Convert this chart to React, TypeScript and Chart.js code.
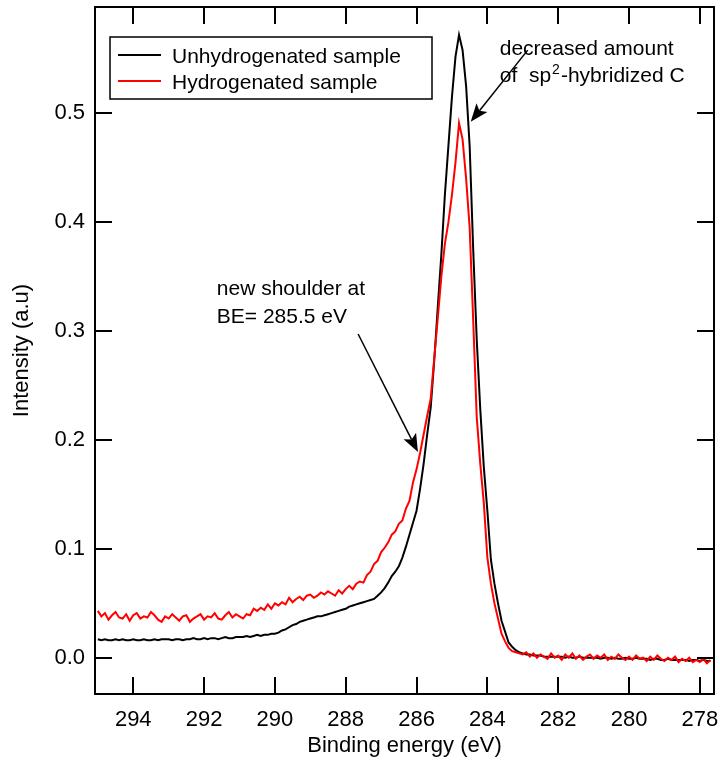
import React, { useEffect, useRef } from "react";
import { Chart, registerables } from "chart.js";

Chart.register(...registerables);

// ---- Data ----
const E_START = 295.0; // binding energy of the first sample (eV)
const E_STEP = -0.1; // sampling step (eV)

const UNHYDROGENATED = [
  0.017, 0.016, 0.017, 0.016, 0.016, 0.017, 0.016, 0.017, 0.016, 0.016,
  0.017, 0.016, 0.016, 0.017, 0.016, 0.016, 0.017, 0.016, 0.017, 0.017,
  0.017, 0.016, 0.017, 0.017, 0.016, 0.017, 0.017, 0.018, 0.017, 0.017,
  0.018, 0.017, 0.018, 0.018, 0.017, 0.018, 0.019, 0.018, 0.018, 0.019,
  0.019, 0.019, 0.020, 0.019, 0.020, 0.021, 0.020, 0.021, 0.021, 0.022,
  0.022, 0.023, 0.025, 0.026, 0.028, 0.030, 0.031, 0.033, 0.034, 0.035,
  0.036, 0.037, 0.038, 0.038, 0.039, 0.040, 0.041, 0.042, 0.043, 0.044,
  0.045, 0.047, 0.048, 0.049, 0.050, 0.051, 0.052, 0.053, 0.054, 0.057,
  0.060, 0.064, 0.069, 0.075, 0.079, 0.084, 0.092, 0.102, 0.113, 0.124,
  0.135, 0.155, 0.178, 0.205, 0.230, 0.273, 0.322, 0.370, 0.425, 0.470,
  0.515, 0.552, 0.572, 0.558, 0.525, 0.470, 0.375, 0.292, 0.228, 0.175,
  0.135, 0.090, 0.068, 0.050, 0.034, 0.024, 0.014, 0.010, 0.007, 0.005,
  0.004, 0.003, 0.003, 0.002, 0.002, 0.002, 0.001, 0.001, 0.001, 0.001,
  0.001, 0.001, 0.000, 0.001, 0.000, 0.000, 0.001, 0.000, 0.000, 0.000,
  0.000, 0.000, -0.001, 0.000, 0.000, -0.001, 0.000, -0.001, -0.001, 0.000,
  -0.001, -0.001, 0.000, -0.001, -0.001, -0.001, -0.002, -0.001, -0.001, -0.002,
  -0.002, -0.001, -0.002, -0.002, -0.002, -0.002, -0.002, -0.003, -0.002, -0.002,
  -0.003, -0.002, -0.003, -0.003,
];

const HYDROGENATED = [
  0.043, 0.038, 0.041, 0.035, 0.039, 0.042, 0.037, 0.036, 0.040, 0.034,
  0.039, 0.041, 0.036, 0.038, 0.037, 0.042, 0.039, 0.035, 0.033, 0.038,
  0.036, 0.040, 0.037, 0.034, 0.038, 0.039, 0.033, 0.036, 0.038, 0.040,
  0.035, 0.038, 0.037, 0.041, 0.036, 0.035, 0.039, 0.042, 0.037, 0.040,
  0.038, 0.036, 0.040, 0.039, 0.045, 0.043, 0.046, 0.044, 0.049, 0.045,
  0.050, 0.048, 0.051, 0.049, 0.055, 0.051, 0.054, 0.056, 0.053, 0.057,
  0.058, 0.055, 0.057, 0.060, 0.058, 0.061, 0.059, 0.057, 0.062, 0.059,
  0.063, 0.066, 0.063, 0.068, 0.070, 0.069, 0.076, 0.079, 0.086, 0.089,
  0.097, 0.101, 0.106, 0.113, 0.116, 0.123, 0.126, 0.137, 0.144, 0.161,
  0.173, 0.188, 0.205, 0.222, 0.238, 0.275, 0.312, 0.350, 0.380, 0.400,
  0.425, 0.455, 0.491, 0.476, 0.440, 0.395, 0.310, 0.221, 0.178, 0.142,
  0.092, 0.068, 0.050, 0.036, 0.022, 0.015, 0.009, 0.006, 0.005, 0.004,
  0.003, 0.005, 0.001, 0.004, 0.000, 0.003, 0.001, -0.001, 0.004, 0.000,
  0.002, -0.002, 0.003, 0.000, 0.004, -0.001, 0.002, -0.002, 0.001, 0.003,
  -0.001, 0.002, 0.000, 0.003, -0.002, 0.001, -0.001, 0.003, 0.000, -0.002,
  0.001, -0.002, 0.002, -0.001, 0.000, -0.003, 0.001, -0.002, 0.002, -0.001,
  -0.003, 0.000, -0.002, 0.001, -0.004, -0.001, -0.003, 0.000, -0.004, -0.002,
  -0.004, -0.001, -0.005, -0.002,
];

const SERIES_LABELS = ["Unhydrogenated sample", "Hydrogenated sample"];
const SERIES_COLORS = ["#000000", "#ff0000"];

const X_TICKS = [294, 292, 290, 288, 286, 284, 282, 280, 278];
const Y_TICKS = [0.0, 0.1, 0.2, 0.3, 0.4, 0.5];

const X_MIN = 277.6;
const X_MAX = 295.08;
const Y_MIN = -0.0333;
const Y_MAX = 0.5976;

const X_TITLE = "Binding energy (eV)";
const Y_TITLE = "Intensity (a.u)";

// annotation anchors in data coordinates
const ANN_SP2 = {
  line1: "decreased amount",
  line2a: "of  sp",
  sup: "2",
  line2b: "-hybridized C",
  textE: 283.65,
  textV: 0.5535,
  tailE: 282.86,
  tailV: 0.558,
  tipE: 284.47,
  tipV: 0.4923,
};
const ANN_SHOULDER = {
  line1: "new shoulder at",
  line2: "BE= 285.5 eV",
  textE: 291.64,
  textV: 0.3331,
  tailE: 287.65,
  tailV: 0.2973,
  tipE: 285.96,
  tipV: 0.1889,
};

const FONT = '"Liberation Sans", Arial, Helvetica, sans-serif';

function buildPoints(values: number[]) {
  return values.map((v, i) => ({ x: +(E_START + i * E_STEP).toFixed(2), y: v }));
}

function drawArrow(ctx: CanvasRenderingContext2D, x1: number, y1: number, x2: number, y2: number) {
  const ang = Math.atan2(y2 - y1, x2 - x1);
  const headLen = 18;
  const headW = 7;
  const notch = 4;
  const c = Math.cos(ang);
  const s = Math.sin(ang);
  const bx = x2 - headLen * c;
  const by = y2 - headLen * s;
  ctx.beginPath();
  ctx.moveTo(x1, y1);
  ctx.lineTo(x2 - (headLen - notch) * c, y2 - (headLen - notch) * s);
  ctx.stroke();
  ctx.beginPath();
  ctx.moveTo(x2, y2);
  ctx.lineTo(bx + headW * s, by - headW * c);
  ctx.lineTo(x2 - (headLen - notch) * c, y2 - (headLen - notch) * s);
  ctx.lineTo(bx - headW * s, by + headW * c);
  ctx.closePath();
  ctx.fill();
}

const decorPlugin = {
  id: "decor",
  afterDatasetsDraw(chart: any) {
    const { ctx, chartArea: a, scales } = chart;
    const xs = scales.x;
    const ys = scales.y;
    ctx.save();
    ctx.strokeStyle = "#000";
    ctx.fillStyle = "#000";
    ctx.lineWidth = 2;
    ctx.lineCap = "butt";
    // frame
    ctx.strokeRect(a.left, a.top, a.right - a.left, a.bottom - a.top);
    // inward mirror ticks
    const TL = 17;
    ctx.beginPath();
    X_TICKS.forEach((v) => {
      const px = Math.round(xs.getPixelForValue(v));
      ctx.moveTo(px, a.bottom);
      ctx.lineTo(px, a.bottom - TL);
      ctx.moveTo(px, a.top);
      ctx.lineTo(px, a.top + TL);
    });
    Y_TICKS.forEach((v) => {
      const py = Math.round(ys.getPixelForValue(v));
      ctx.moveTo(a.left, py);
      ctx.lineTo(a.left + TL, py);
      ctx.moveTo(a.right, py);
      ctx.lineTo(a.right - TL, py);
    });
    ctx.stroke();

    // legend
    const lx = a.left + 15;
    const ly = a.top + 30;
    ctx.lineWidth = 1.5;
    ctx.strokeRect(lx, ly, 322, 62);
    ctx.font = `21px ${FONT}`;
    ctx.textBaseline = "alphabetic";
    ctx.textAlign = "left";
    SERIES_LABELS.forEach((lab, i) => {
      const yy = ly + 18 + i * 26;
      ctx.strokeStyle = SERIES_COLORS[i];
      ctx.lineWidth = 1.8;
      ctx.beginPath();
      ctx.moveTo(lx + 8, yy);
      ctx.lineTo(lx + 51, yy);
      ctx.stroke();
      ctx.fillStyle = "#000";
      ctx.fillText(lab, lx + 62, yy + 7.5);
    });

    // annotation 1
    ctx.strokeStyle = "#000";
    ctx.fillStyle = "#000";
    ctx.lineWidth = 1.5;
    {
      const tx = xs.getPixelForValue(ANN_SP2.textE);
      const ty = ys.getPixelForValue(ANN_SP2.textV);
      ctx.font = `21px ${FONT}`;
      ctx.fillText(ANN_SP2.line1, tx, ty);
      const y2 = ty + 27;
      ctx.fillText(ANN_SP2.line2a, tx, y2);
      let cx = tx + ctx.measureText(ANN_SP2.line2a).width + 1;
      ctx.font = `14px ${FONT}`;
      ctx.fillText(ANN_SP2.sup, cx, y2 - 8);
      cx += ctx.measureText(ANN_SP2.sup).width + 1;
      ctx.font = `21px ${FONT}`;
      ctx.fillText(ANN_SP2.line2b, cx, y2);
      drawArrow(
        ctx,
        xs.getPixelForValue(ANN_SP2.tailE),
        ys.getPixelForValue(ANN_SP2.tailV),
        xs.getPixelForValue(ANN_SP2.tipE),
        ys.getPixelForValue(ANN_SP2.tipV)
      );
    }
    // annotation 2
    {
      const tx = xs.getPixelForValue(ANN_SHOULDER.textE);
      const ty = ys.getPixelForValue(ANN_SHOULDER.textV);
      ctx.font = `21px ${FONT}`;
      ctx.fillText(ANN_SHOULDER.line1, tx, ty);
      ctx.fillText(ANN_SHOULDER.line2, tx, ty + 28);
      drawArrow(
        ctx,
        xs.getPixelForValue(ANN_SHOULDER.tailE),
        ys.getPixelForValue(ANN_SHOULDER.tailV),
        xs.getPixelForValue(ANN_SHOULDER.tipE),
        ys.getPixelForValue(ANN_SHOULDER.tipV)
      );
    }
    ctx.restore();
  },
};

function zeroPadding(scale: any) {
  scale.paddingTop = 0;
  scale.paddingBottom = 0;
  scale.paddingLeft = 0;
  scale.paddingRight = 0;
}

export default function App() {
  const ref = useRef<HTMLCanvasElement>(null);
  useEffect(() => {
    if (!ref.current) return;
    const chart = new Chart(ref.current, {
      type: "line",
      data: {
        datasets: [
          {
            label: SERIES_LABELS[0],
            data: buildPoints(UNHYDROGENATED),
            borderColor: SERIES_COLORS[0],
            borderWidth: 2,
            pointRadius: 0,
            tension: 0,
            fill: false,
            order: 1,
          },
          {
            label: SERIES_LABELS[1],
            data: buildPoints(HYDROGENATED),
            borderColor: SERIES_COLORS[1],
            borderWidth: 2,
            pointRadius: 0,
            tension: 0,
            fill: false,
            order: 0,
          },
        ],
      },
      options: {
        animation: false,
        responsive: false,
        devicePixelRatio: 1,
        events: [],
        layout: { padding: { top: 7, right: 6, left: 0, bottom: 0 } },
        plugins: {
          legend: { display: false },
          tooltip: { enabled: false },
        },
        scales: {
          x: {
            type: "linear",
            reverse: true,
            min: X_MIN,
            max: X_MAX,
            afterBuildTicks: (scale: any) => {
              scale.ticks = X_TICKS.map((v) => ({ value: v }));
            },
            afterFit: (scale: any) => {
              scale.height = 69;
              zeroPadding(scale);
            },
            grid: { display: false, drawTicks: false },
            border: { display: false },
            ticks: {
              color: "#000",
              font: { family: FONT, size: 22 },
              padding: 13,
              maxRotation: 0,
              autoSkip: false,
              callback: (v: any) => String(v),
            },
            title: {
              display: true,
              text: X_TITLE,
              color: "#000",
              font: { family: FONT, size: 22 },
              padding: { top: 0, bottom: 4 },
            },
          },
          y: {
            type: "linear",
            min: Y_MIN,
            max: Y_MAX,
            afterBuildTicks: (scale: any) => {
              scale.ticks = Y_TICKS.map((v) => ({ value: v }));
            },
            afterFit: (scale: any) => {
              scale.width = 95;
              zeroPadding(scale);
            },
            grid: { display: false, drawTicks: false },
            border: { display: false },
            ticks: {
              color: "#000",
              font: { family: FONT, size: 22 },
              padding: 10,
              autoSkip: false,
              callback: (v: any) => Number(v).toFixed(1),
            },
            title: {
              display: true,
              text: Y_TITLE,
              color: "#000",
              font: { family: FONT, size: 22 },
              padding: { top: 9, bottom: 0 },
            },
          },
        },
      },
      plugins: [decorPlugin],
    } as any);
    return () => chart.destroy();
  }, []);
  return (
    <div style={{ position: "fixed", left: 0, top: 0, width: 720, height: 763, background: "#fff" }}>
      <canvas ref={ref} width={720} height={763} style={{ width: 720, height: 763, display: "block" }} />
    </div>
  );
}
